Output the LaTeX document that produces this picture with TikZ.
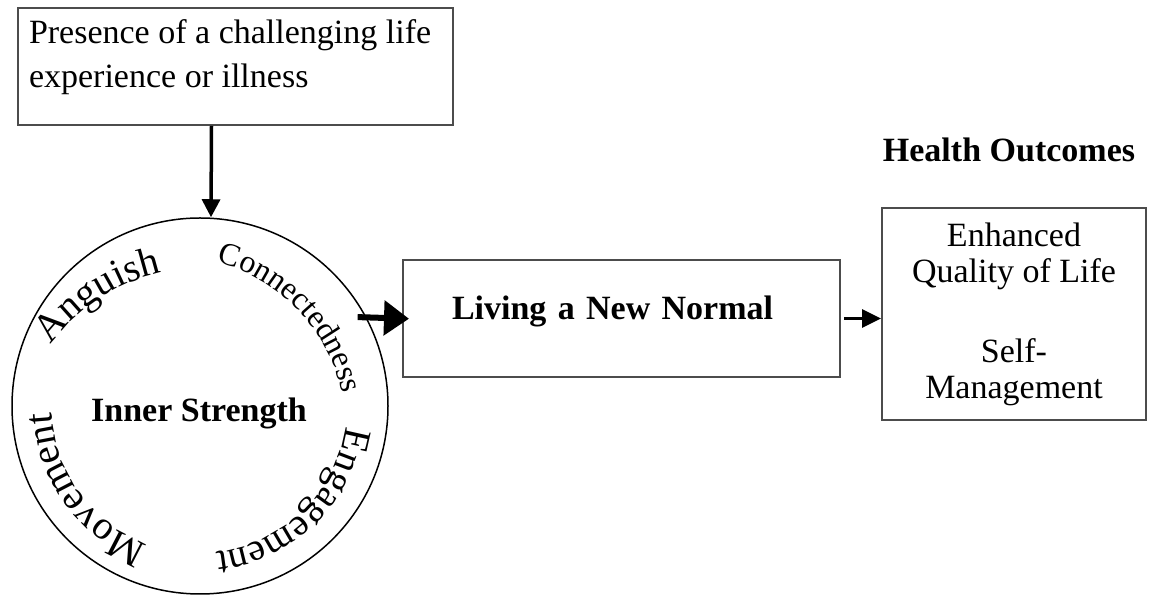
\documentclass[tikz,border=0pt]{standalone}
\usepackage{fontspec}
\setmainfont{Liberation Serif}
\usetikzlibrary{arrows.meta,decorations.text}
\newcommand{\txt}{\fontsize{17}{22}\selectfont}
\newcommand{\hd}{\fontsize{17}{20}\selectfont\bfseries}
\newcommand{\arcfont}{\fontsize{20}{20}\selectfont}

\begin{document}
\begin{tikzpicture}[x=0.5pt,y=0.5pt,
   box/.style={draw=black!70,line width=1pt,rectangle},
   flow/.style={-{Triangle[length=9pt,width=9pt]},line width=1.75pt},
   ring/.style={decorate,decoration={text along path,text align=center,text={#1}}}]
   \useasboundingbox (0,0) rectangle (1152,-597);
   \node[box,anchor=north west,inner xsep=5.5pt,inner ysep=0pt,font=\txt] (event) at (17,-7)
     {\parbox[c][58.5pt][t]{206.5pt}{\rule{0pt}{18pt}Presence of a challenging life\\experience or illness}};
   \node[circle,draw,line width=0.75pt,minimum size=188pt,inner sep=0pt] (core) at (200,-406) {};
   \node[font=\hd] (strength) at (199,-413) {Inner Strength};
   \path[ring={|\arcfont|Anguish}] (203,-457) ++(163:189) arc[start angle=163,end angle=83,radius=189];
   \path[ring={|\fontsize{16}{16}\selectfont|Connectedness}] (172,-430) ++(83.5:174) arc[start angle=83.5,end angle=3.5,radius=174];
   \path[ring={|\fontsize{19.5}{20}\selectfont|Engagement}] (core.center) ++(-6:147) arc[start angle=-6,end angle=-86,radius=147];
   \path[ring={|\arcfont|Movement}] (core.center) ++(256:148) arc[start angle=256,end angle=176,radius=148];
   \node[box,minimum width=218.5pt,inner xsep=24.5pt,inner ysep=0pt,text width=169.5pt,align=left,
     text height=30pt,text depth=28.5pt,font=\hd] (normal) at (621.5,-318.5) {Living a New Normal};
   \node[font=\hd,anchor=base] (heading) at (1009,-162) {Health Outcomes};
   \node[box,minimum width=132pt,minimum height=106pt,align=center,font=\fontsize{17}{18}\selectfont] (outcome) at (1014,-314)
     {Enhanced\\Quality of Life\\[22pt]Self-\\Management};
   \draw[flow] ([xshift=-12pt]event.south) -- ([xshift=5.5pt]core.north);
   \draw[-{Triangle[length=12.5pt,width=17pt]},line width=3pt,shorten <=-4.5pt,shorten >=-3.5pt] (core.28) -- (normal.west);
   \draw[-{Triangle[length=9.5pt,width=9pt]},line width=1.5pt,shorten <=1.5pt] (normal.east) -- (normal.east -| outcome.west);
\end{tikzpicture}
\end{document}
